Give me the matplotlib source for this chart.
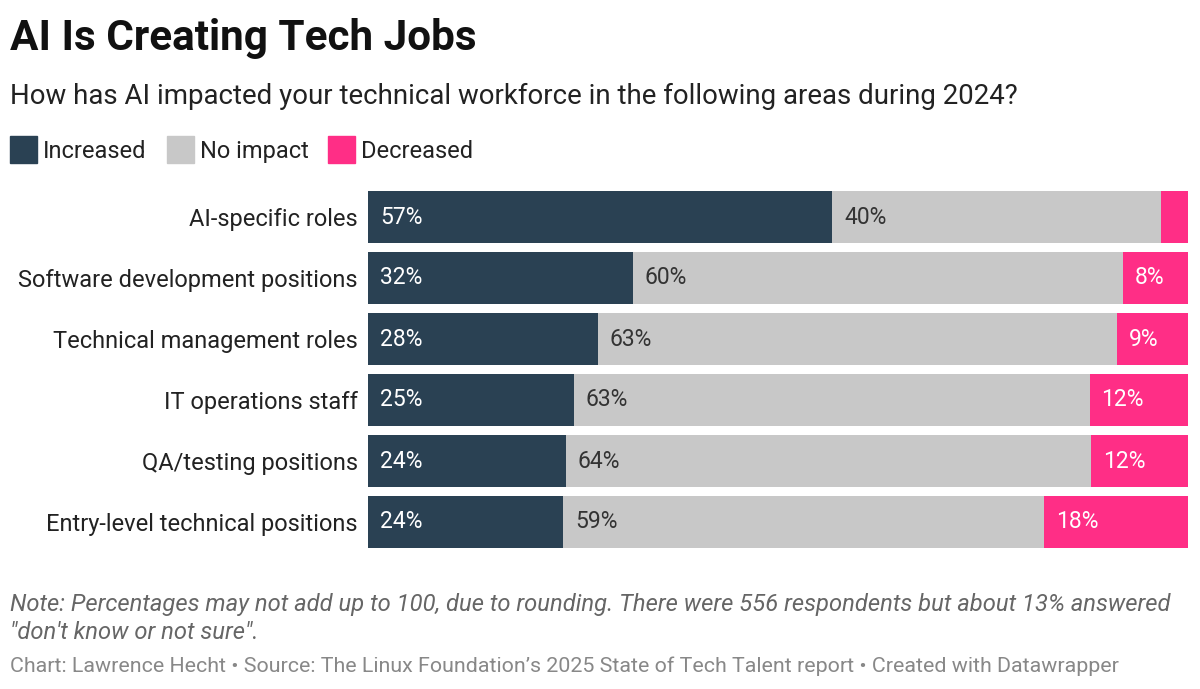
import numpy as np
from matplotlib import pyplot as plt

categories = ['AI-specific roles', 'Software development positions', 'Technical management roles',
              'IT operations staff', 'QA/testing positions', 'Entry-level technical positions']
increased = [56.6, 32.3, 28.0, 25.1, 24.1, 23.8]
no_impact = [40.1, 59.8, 63.3, 62.9, 64.1, 58.6]
decreased = [3.3, 7.9, 8.7, 12.0, 11.8, 17.6]
series_names = ['Increased', 'No impact', 'Decreased']

colors = ['#2a4153', '#c8c8c8', '#ff2e86']
label_colors = ['white', '#333333', 'white']

plt.rcParams['font.family'] = ['Roboto', 'DejaVu Sans']

fig = plt.figure(figsize=(12, 6.89), dpi=100)
ax = fig.add_axes([368 / 1200, 1 - 552.5 / 689, 820 / 1200, 366 / 689])

y = np.arange(len(categories))
left = np.zeros(len(categories))
for vals, c, lc in zip([increased, no_impact, decreased], colors, label_colors):
    vals = np.array(vals)
    ax.barh(y, vals, left=left, height=0.86, color=c, edgecolor='none')
    for yi, l, v in zip(y, left, vals):
        if v >= 5:
            ax.text(l + 1.45, yi, f'{round(v)}%', ha='left', va='center',
                    color=lc, fontsize=16.5)
    left = left + vals

ax.set_xlim(0, 100)
ax.set_ylim(5.5, -0.5)
ax.set_yticks(y)
ax.set_yticklabels(categories, fontsize=17, color='#222222')
ax.tick_params(axis='y', length=0, pad=7.2)
ax.set_xticks([])
for s in ax.spines.values():
    s.set_visible(False)

fig.text(10 / 1200, 1 - 50 / 689, 'AI Is Creating Tech Jobs', fontsize=30.4, fontweight='bold',
         color='#111111', ha='left', va='baseline')
fig.text(10 / 1200, 1 - 104 / 689,
         'How has AI impacted your technical workforce in the following areas during 2024?',
         fontsize=19.9, color='#222222', ha='left', va='baseline')

# legend
lx = 10
for name, c in zip(series_names, colors):
    fig.patches.append(plt.Rectangle((lx / 1200, 1 - 163 / 689), 27 / 1200, 27 / 689,
                                     transform=fig.transFigure, color=c))
    t = fig.text((lx + 33) / 1200, 1 - 158 / 689, name, fontsize=17, color='#222222',
                 ha='left', va='baseline')
    fig.canvas.draw()
    bb = t.get_window_extent()
    lx = bb.x1 + 20

fig.text(10 / 1200, 1 - 611 / 689,
         'Note: Percentages may not add up to 100, due to rounding. There were 556 respondents but about 13% answered',
         fontsize=17.1, style='italic', color='#666666', ha='left', va='baseline')
fig.text(10 / 1200, 1 - 639 / 689, '"don\'t know or not sure".',
         fontsize=17.1, style='italic', color='#666666', ha='left', va='baseline')
fig.text(10 / 1200, 1 - 672 / 689,
         'Chart: Lawrence Hecht \u2022 Source: The Linux Foundation\u2019s 2025 State of Tech Talent report \u2022 Created with Datawrapper',
         fontsize=15.4, color='#888888', ha='left', va='baseline')

fig.savefig('out.png', dpi=100, facecolor='white')
